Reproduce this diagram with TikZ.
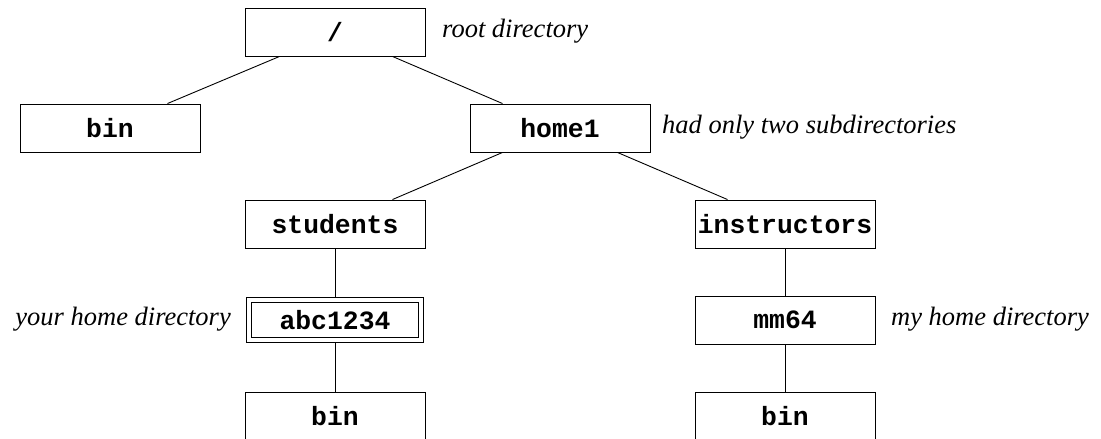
\documentclass[tikz,border=0pt]{standalone}
\usepackage{fontspec}
\setmainfont{Liberation Serif}
\setmonofont{Liberation Mono}
\begin{document}
\begin{tikzpicture}[x=1pt,y=-1pt,
  dir/.style={draw,line width=0.9pt,minimum width=180pt,minimum height=48pt,inner sep=0pt,
    font=\fontsize{26.4}{30}\selectfont\ttfamily\bfseries},
  home/.style={dir,double,double distance=4.5pt,minimum width=172pt,minimum height=40pt},
  note/.style={font=\fontsize{26.5}{30}\selectfont\itshape,inner sep=0pt},
  link/.style={line width=0.9pt}]
\useasboundingbox (0,0) rectangle (1101,439);
% directory boxes
\node[dir] (root) at (335,32) {/};
\node[dir] (bin) at (110,128) {bin};
\node[dir] (home1) at (560,128) {home1};
\node[dir] (students) at (335,224) {students};
\node[dir] (instr) at (785,224) {instructors};
\node[home] (abc) at (335,320) {abc1234};
\node[dir] (mm) at (785,320) {mm64};
\node[dir] (sbin) at (335,416) {bin};
\node[dir] (ibin) at (785,416) {bin};
% annotations
\node[note,anchor=west] (n1) at (442,31) {root directory};
\node[note,anchor=west] (n2) at (662,127) {had only two subdirectories};
\node[note,anchor=east] (n3) at (231,319) {your home directory};
\node[note,anchor=west] (n4) at (891,319) {my home directory};
% tree edges
\draw[link] ([xshift=35pt]root.south west) -- ([xshift=-33pt]bin.north east);
\draw[link] ([xshift=-33pt]root.south east) -- ([xshift=33pt]home1.north west);
\draw[link] ([xshift=33pt]home1.south west) -- ([xshift=-33pt]students.north east);
\draw[link] ([xshift=-33pt]home1.south east) -- ([xshift=33pt]instr.north west);
\draw[link] (students.south) -- ([yshift=3pt]abc.north);
\draw[link] ([yshift=-3pt]abc.south) -- (sbin.north);
\draw[link] (instr.south) -- (mm.north);
\draw[link] (mm.south) -- (ibin.north);
\end{tikzpicture}
\end{document}
